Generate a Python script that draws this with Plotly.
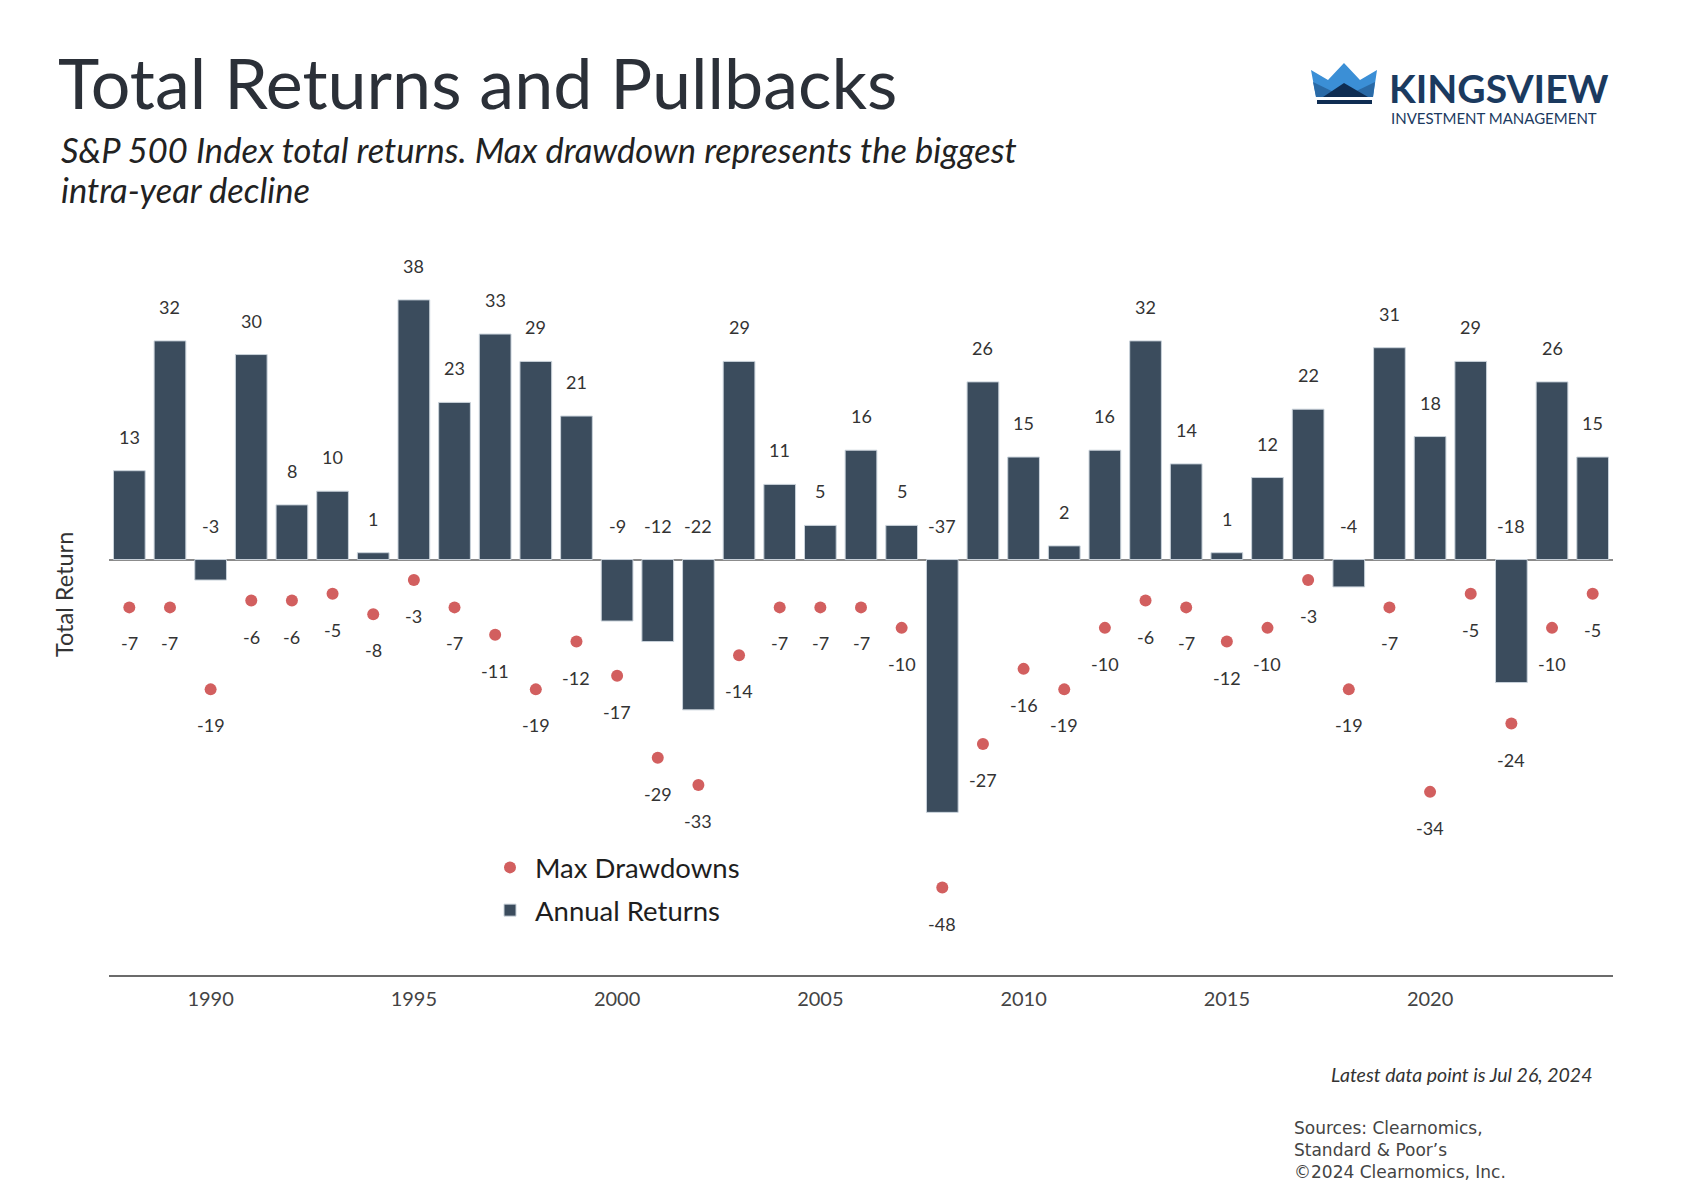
import plotly.graph_objects as go

years = list(range(1988, 2025))
annual_returns = [13, 32, -3, 30, 8, 10, 1, 38, 23, 33, 29, 21, -9, -12, -22, 29, 11, 5, 16, 5,
                  -37, 26, 15, 2, 16, 32, 14, 1, 12, 22, -4, 31, 18, 29, -18, 26, 15]
max_drawdowns = [-7, -7, -19, -6, -6, -5, -8, -3, -7, -11, -19, -12, -17, -29, -33, -14, -7, -7, -7, -10,
                 -48, -27, -16, -19, -10, -6, -7, -12, -10, -3, -19, -7, -34, -5, -24, -10, -5]
tick_years = [1990, 1995, 2000, 2005, 2010, 2015, 2020]

W, H = 1704, 1200
OFF = 8  # page body margin
PL, PR, PT, PB = 109 - OFF, 1613 - OFF, 250 - OFF, 975 - OFF

def px(x, y):
    x -= OFF
    y -= OFF
    return (x - PL) / (PR - PL), (PB - y) / (PB - PT)

BAR = "#3b4c5d"
DOT = "#d25f5f"
TXT = "#333333"
FONT = "Lato"

fig = go.Figure()
fig.add_trace(go.Scatter(
    x=years, y=max_drawdowns, mode="markers", name="Max Drawdowns",
    marker=dict(color=DOT, size=12), legendrank=1, legendgroup="a",
))
fig.add_trace(go.Bar(
    x=years, y=annual_returns, name="Annual Returns",
    marker=dict(color=BAR, line=dict(color="#c9d2da", width=1)), legendrank=2, legendgroup="b",
))

annotations = []
for yr, v in zip(years, annual_returns):
    annotations.append(dict(x=yr, y=max(v, 0), xref="x", yref="y", text=str(v), showarrow=False,
                            yshift=34, font=dict(family=FONT, size=18, color=TXT)))
for yr, d in zip(years, max_drawdowns):
    annotations.append(dict(x=yr, y=d, xref="x", yref="y", text=str(d), showarrow=False,
                            yshift=-36, font=dict(family=FONT, size=18, color=TXT)))

def ann(x, y, text, size, color="#2b3038", xanchor="left", yanchor="middle", italic=False, family=FONT, **kw):
    ax, ay = px(x, y)
    t = f"<i>{text}</i>" if italic else text
    annotations.append(dict(x=ax, y=ay, xref="paper", yref="paper", text=t, showarrow=False,
                            xanchor=xanchor, yanchor=yanchor, align="left",
                            font=dict(family=family, size=size, color=color), **kw))

ann(56, 82, "Total Returns and Pullbacks", 70, color="#2b3038")
ann(59, 150, "S&P 500 Index total returns. Max drawdown represents the biggest", 34.5,
    color="#222222", italic=True)
ann(59, 189, "intra-year decline", 34.5, color="#222222", italic=True)
ann(64, 595, "Total Return", 23.5, color="#333333", xanchor="center", textangle=-90)
ann(1594, 1074, "Latest data point is Jul 26, 2024", 19.5, color="#333333", xanchor="right", italic=True)
ann(1292, 1150, "Sources: Clearnomics,<br>Standard &amp; Poor’s<br>©2024 Clearnomics, Inc.", 17,
    color="#444444", family="DejaVu Sans")
ann(1387, 88, "<b>KINGSVIEW</b>", 39, color="#1b3a5f", family="Lato")
ann(1389, 118, "INVESTMENT MANAGEMENT", 15, color="#1b3a5f", family="Lato")

# logo crown
def path(points):
    s = ""
    for i, (x, y) in enumerate(points):
        ax, ay = px(x, y)
        s += ("M" if i == 0 else "L") + f"{ax:.5f},{ay:.5f} "
    return s + "Z"

shapes = [
    dict(type="path", xref="paper", yref="paper", line=dict(width=0), fillcolor="#3b8fd6",
         path=path([(1311, 70), (1328, 80), (1344, 63), (1360, 80), (1377, 70), (1373, 97), (1316, 97)])),
    dict(type="path", xref="paper", yref="paper", line=dict(width=0), fillcolor="#2a6aa6",
         path=path([(1313, 82), (1344, 97), (1316, 97)])),
    dict(type="path", xref="paper", yref="paper", line=dict(width=0), fillcolor="#2a6aa6",
         path=path([(1375, 82), (1344, 97), (1373, 97)])),
    dict(type="path", xref="paper", yref="paper", line=dict(width=0), fillcolor="#0f2d52",
         path=path([(1323, 97), (1344, 83), (1368, 97)])),
    dict(type="path", xref="paper", yref="paper", line=dict(width=0), fillcolor="#0f2d52",
         path=path([(1317, 100), (1372, 100), (1372, 104), (1317, 104)])),
]

lx, ly = px(485, 843)
fig.update_layout(
    width=W, height=H,
    margin=dict(l=PL, r=W - PR, t=PT, b=H - PB),
    paper_bgcolor="white", plot_bgcolor="white",
    bargap=0.22,
    showlegend=True,
    legend=dict(x=lx, y=ly, xanchor="left", yanchor="top", itemwidth=40,
                font=dict(family=FONT, size=27.5, color="#1e1e1e"), bgcolor="rgba(0,0,0,0)",
                tracegroupgap=4),
    annotations=annotations,
    shapes=shapes,
    font=dict(family=FONT),
)
fig.update_xaxes(range=[1987.5, 2024.5], tickvals=tick_years, ticktext=[str(t) for t in tick_years],
                 showgrid=False, showline=True, linecolor="#6b6b6b", linewidth=2, ticks="",
                 tickfont=dict(family=FONT, size=20, color="#444444"), ticklabelstandoff=5, zeroline=False)
fig.update_yaxes(range=[-60.8, 45.3], showgrid=False, showticklabels=False, zeroline=True,
                 zerolinecolor="#8a8a8a", zerolinewidth=1.5, showline=False)

fig.write_html("out.html")
